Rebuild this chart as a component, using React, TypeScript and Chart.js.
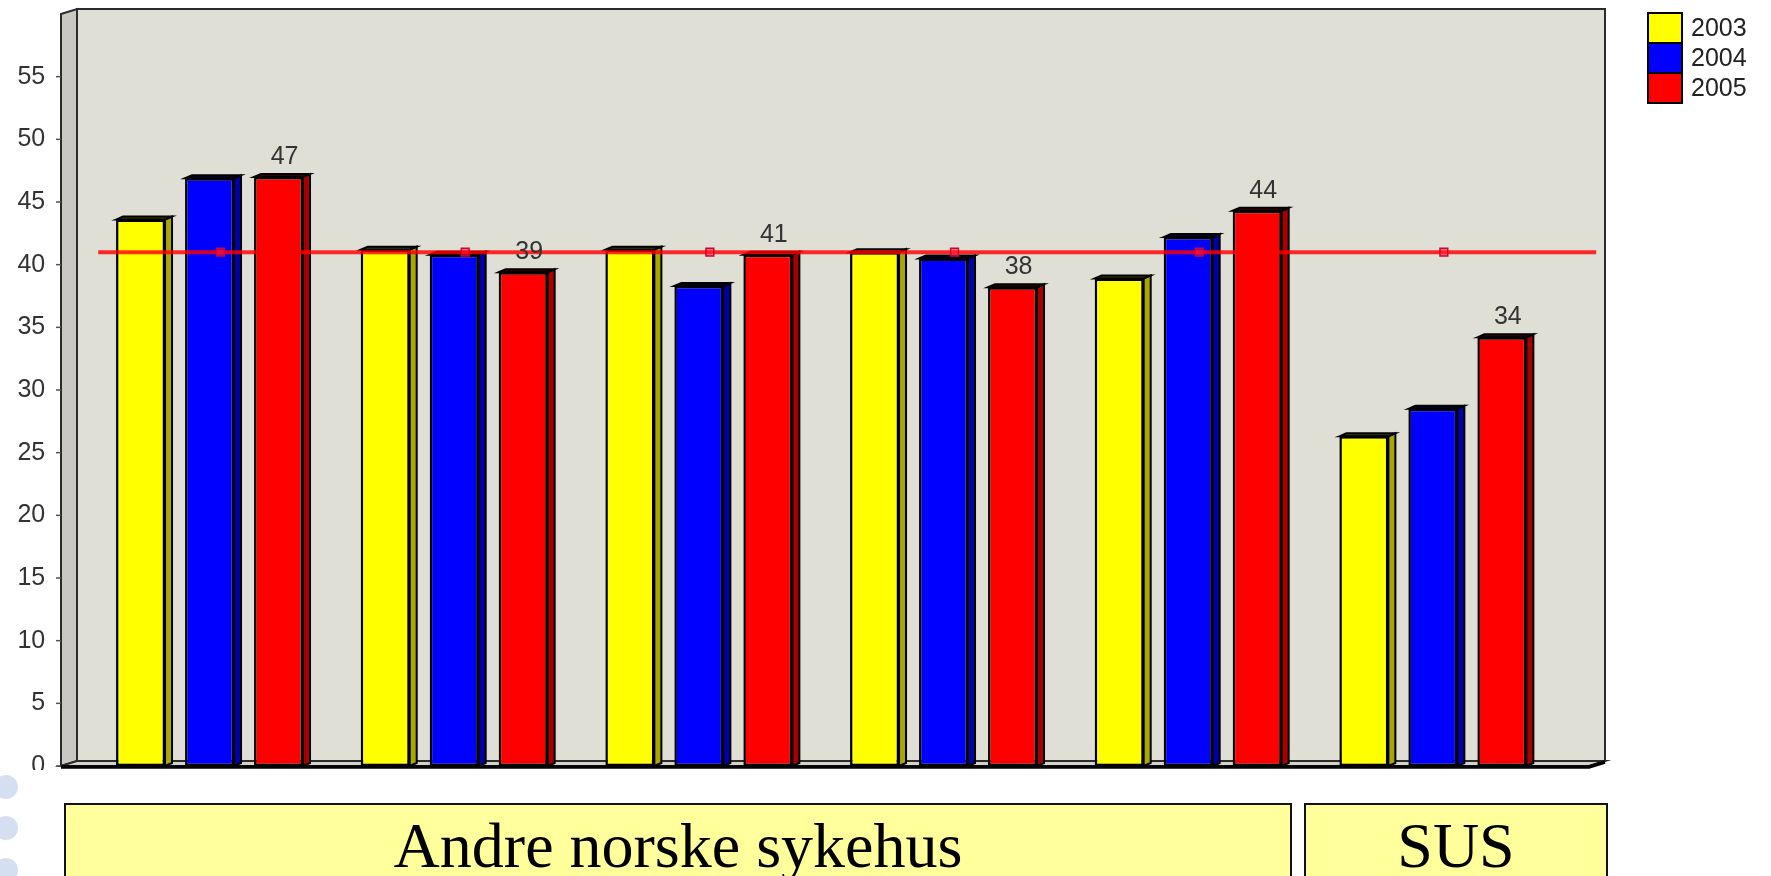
import React, { useEffect, useRef } from "react";
import { Chart, registerables } from "chart.js";

Chart.register(...registerables);

// ---- data ----
const CATEGORIES = ["Sykehus A", "Sykehus B", "Sykehus C", "Sykehus D", "Sykehus E", "SUS"];
const YEARS = ["2003", "2004", "2005"];
const S2003 = [43.6, 41.2, 41.2, 41.0, 38.9, 26.3];
const S2004 = [46.9, 40.8, 38.3, 40.5, 42.2, 28.5];
const S2005 = [47.0, 39.4, 40.8, 38.2, 44.3, 34.2];
const AVERAGE = [41.0, 41.0, 41.0, 41.0, 41.0, 41.0];
const Y_MAX = 60;
const Y_STEP = 5;
const HIDDEN_TICKS = [60];
const GROUP_LABELS = ["Andre norske sykehus", "SUS"];

const FACE = ["#FFFF00", "#0000FF", "#FF0000"];
const SIDE = ["#A8A800", "#0000A8", "#A80000"];
const TOP = ["#3a3a00", "#00003a", "#3a0000"];
const LABELLED_SERIES = 2;
const FONT = '"Liberation Sans", Arial, sans-serif';

const WALL_DX = 16;
const WALL_DY = 5;
const BAR_DX = 7;
const BAR_DY = 3;

const threeDPlugin = {
  id: "threeD",
  beforeDatasetsDraw(chart: any) {
    const { ctx, chartArea: a, scales } = chart;
    const fl = a.left - 26.2;
    const fr = a.right + 33.8;
    const ft = a.top;
    const fb = a.bottom;
    ctx.save();
    // back wall
    ctx.fillStyle = "#DFDFD5";
    ctx.fillRect(fl + WALL_DX, ft - WALL_DY, fr - fl, fb - ft);
    ctx.strokeStyle = "#2b2b2b";
    ctx.lineWidth = 2;
    ctx.strokeRect(fl + WALL_DX, ft - WALL_DY, fr - fl, fb - ft);
    // left side wall
    ctx.beginPath();
    ctx.moveTo(fl, ft);
    ctx.lineTo(fl + WALL_DX, ft - WALL_DY);
    ctx.lineTo(fl + WALL_DX, fb - WALL_DY);
    ctx.lineTo(fl, fb);
    ctx.closePath();
    ctx.fillStyle = "#C9C9C1";
    ctx.fill();
    ctx.stroke();
    // floor
    ctx.beginPath();
    ctx.moveTo(fl, fb);
    ctx.lineTo(fl + WALL_DX, fb - WALL_DY);
    ctx.lineTo(fr + WALL_DX, fb - WALL_DY);
    ctx.lineTo(fr, fb);
    ctx.closePath();
    ctx.fillStyle = "#D3D3C9";
    ctx.fill();
    ctx.stroke();
    // front floor edge
    ctx.beginPath();
    ctx.moveTo(fl, fb + 1);
    ctx.lineTo(fr, fb + 1);
    ctx.lineTo(fr + WALL_DX, fb - WALL_DY + 1);
    ctx.strokeStyle = "#000";
    ctx.lineWidth = 3.5;
    ctx.stroke();
    // tick marks
    const y = scales.y;
    ctx.strokeStyle = "#555";
    ctx.lineWidth = 1.5;
    y.ticks.forEach((t: any) => {
      if (HIDDEN_TICKS.includes(t.value)) return;
      const py = y.getPixelForValue(t.value);
      ctx.beginPath();
      ctx.moveTo(fl - 5, py);
      ctx.lineTo(fl, py);
      ctx.stroke();
    });
    ctx.restore();
  },
  afterDatasetDraw(chart: any, args: any) {
    const ds = chart.data.datasets[args.index];
    const { ctx } = chart;
    if (ds.type === "line") {
      ctx.restore();
      return;
    }
    const i = args.index;
    ctx.save();
    ctx.strokeStyle = "#000";
    ctx.lineWidth = 2;
    args.meta.data.forEach((el: any) => {
      const { x, y, base, width } = el.getProps(["x", "y", "base", "width"], true);
      const l = x - width / 2;
      const r = x + width / 2;
      // right face
      ctx.beginPath();
      ctx.moveTo(r, y);
      ctx.lineTo(r + BAR_DX, y - BAR_DY);
      ctx.lineTo(r + BAR_DX, base - BAR_DY);
      ctx.lineTo(r, base);
      ctx.closePath();
      ctx.fillStyle = SIDE[i];
      ctx.fill();
      ctx.stroke();
      // top face
      ctx.beginPath();
      ctx.moveTo(l, y);
      ctx.lineTo(l + BAR_DX, y - BAR_DY);
      ctx.lineTo(r + BAR_DX, y - BAR_DY);
      ctx.lineTo(r, y);
      ctx.closePath();
      ctx.fillStyle = TOP[i];
      ctx.fill();
      ctx.stroke();
    });
    ctx.restore();
  },
  beforeDatasetDraw(chart: any, args: any) {
    const ds = chart.data.datasets[args.index];
    if (ds.type !== "line") return;
    const { ctx, chartArea: a, scales } = chart;
    const py = scales.y.getPixelForValue(ds.data[0]);
    ctx.save();
    ctx.beginPath();
    ctx.moveTo(a.left + 11, py);
    ctx.lineTo(a.right + 41, py);
    ctx.strokeStyle = "rgba(255,0,0,0.82)";
    ctx.lineWidth = 4;
    ctx.stroke();
    ctx.translate(11, 0);
  },
  afterDatasetsDraw(chart: any) {
    const { ctx } = chart;
    const meta = chart.getDatasetMeta(LABELLED_SERIES);
    const data = chart.data.datasets[LABELLED_SERIES].data;
    ctx.save();
    ctx.font = `25px ${FONT}`;
    ctx.fillStyle = "#333";
    ctx.textAlign = "center";
    ctx.textBaseline = "alphabetic";
    meta.data.forEach((el: any, k: number) => {
      const { x, y } = el.getProps(["x", "y"], true);
      ctx.fillText(String(Math.round(data[k])), x + 6, y - 13);
    });
    ctx.restore();
  },
  afterDraw(chart: any) {
    const { ctx } = chart;
    const bx = 1648;
    const by = 13;
    const bw = 34;
    const bh = 30;
    ctx.save();
    ctx.font = `25px ${FONT}`;
    ctx.textBaseline = "middle";
    ctx.textAlign = "left";
    chart.data.datasets.forEach((ds: any, k: number) => {
      if (ds.type === "line") return;
      const top = by + k * bh;
      ctx.fillStyle = ds.backgroundColor;
      ctx.fillRect(bx, top, bw, bh);
      ctx.strokeStyle = "#000";
      ctx.lineWidth = 2;
      ctx.strokeRect(bx, top, bw, bh);
      ctx.fillStyle = "#222";
      ctx.fillText(ds.label, bx + bw + 9, top + bh / 2 + 1);
    });
    ctx.restore();
  },
};

function ChartCanvas() {
  const ref = useRef<HTMLCanvasElement | null>(null);
  useEffect(() => {
    if (!ref.current) return;
    const series = [S2003, S2004, S2005];
    const chart = new Chart(ref.current, {
      type: "bar",
      data: {
        labels: CATEGORIES,
        datasets: [
          ...series.map((s, i) => ({
            type: "bar" as const,
            label: YEARS[i],
            data: s,
            backgroundColor: FACE[i],
            borderColor: "#000",
            borderWidth: 2.5,
            borderSkipped: false as any,
            barPercentage: 0.71,
            categoryPercentage: 0.846,
            order: 1,
          })),
          {
            type: "line" as const,
            label: "Gjennomsnitt",
            data: AVERAGE,
            showLine: false,
            pointStyle: "rect",
            pointRadius: 5.5,
            pointBorderWidth: 1.5,
            pointBorderColor: "#D8002C",
            pointBackgroundColor: "rgba(255,30,60,0.55)",
            order: 0,
          } as any,
        ],
      },
      options: {
        responsive: false,
        animation: false,
        layout: { padding: { left: 0, right: 215.8, top: 14, bottom: 34 } },
        plugins: { legend: { display: false }, tooltip: { enabled: false } },
        scales: {
          x: { display: false, offset: true },
          y: {
            min: 0,
            max: Y_MAX,
            grid: { display: false, drawTicks: false },
            border: { display: false },
            ticks: {
              stepSize: Y_STEP,
              padding: 42,
              color: "#333",
              font: { family: FONT, size: 25 },
              callback: (v: any) => (HIDDEN_TICKS.includes(v) ? "" : String(v)),
            },
            afterFit: (s: any) => {
              s.width = 87.2;
              s.paddingTop = 0;
              s.paddingBottom = 0;
              s.paddingLeft = 0;
              s.paddingRight = 0;
            },
          },
        },
      },
      plugins: [threeDPlugin],
    });
    return () => chart.destroy();
  }, []);
  return <canvas ref={ref} width={1771} height={800} style={{ display: "block" }} />;
}

export default function App() {
  const boxStyle = (left: number, width: number): React.CSSProperties => ({
    position: "absolute",
    left,
    top: 803,
    width,
    height: 100,
    background: "#FFFF9C",
    border: "2.5px solid #111",
    boxSizing: "border-box",
    textAlign: "center",
    fontFamily: '"Liberation Serif", "Times New Roman", serif',
    fontSize: 64,
    lineHeight: "64px",
    paddingTop: 9,
    color: "#000",
  });
  const circle = (top: number): React.CSSProperties => ({
    position: "absolute",
    left: -6,
    top,
    width: 24,
    height: 24,
    borderRadius: "50%",
    background: "#D4E0F2",
  });
  return (
    <div style={{ position: "absolute", left: 0, top: 0, width: 1771, height: 876, overflow: "hidden", background: "#fff" }}>
      <div style={{ position: "absolute", left: 0, top: 0, width: 1771, height: 770, overflow: "hidden" }}>
        <ChartCanvas />
      </div>
      <div style={circle(775)} />
      <div style={circle(816)} />
      <div style={circle(858)} />
      <div style={boxStyle(64, 1228)}>{GROUP_LABELS[0]}</div>
      <div style={boxStyle(1304, 304)}>{GROUP_LABELS[1]}</div>
    </div>
  );
}
